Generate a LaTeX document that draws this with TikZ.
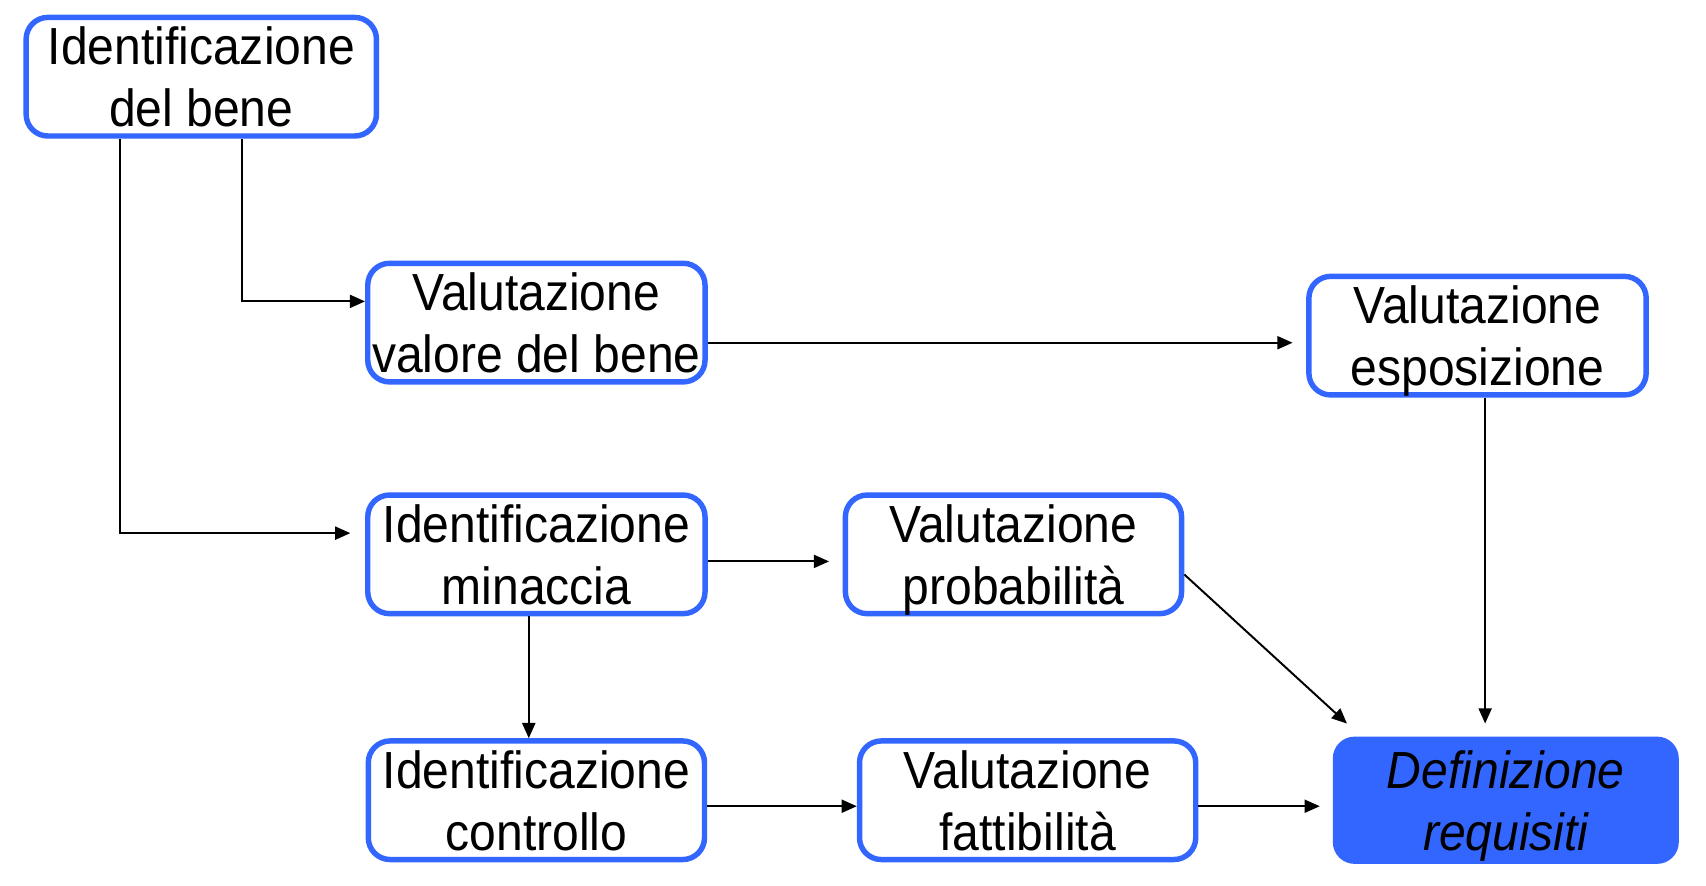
\documentclass[tikz,border=0pt]{standalone}
\usepackage{fontspec}
\setmainfont{Liberation Sans}[FakeStretch=0.92]
\usetikzlibrary{arrows.meta,calc}
\definecolor{boxblue}{HTML}{3366FF}
\begin{document}
\begin{tikzpicture}[x=1pt,y=1pt,
  box/.style={draw=boxblue,line width=5pt,rounded corners=20pt,fill=white,
    minimum width=310pt,minimum height=109pt,inner sep=0pt,align=center,
    font=\fontsize{48}{57}\selectfont,text depth=0pt},
  goal/.style={box,fill=boxblue,font=\fontsize{48}{57}\selectfont\itshape},
  arr/.style={line width=1.8pt,-{Triangle[length=14pt,width=12pt]}}]
\useasboundingbox (0,0) rectangle (1568,-814);
\node[box,minimum width=322pt] (b1) at (185,-70.5) {Identificazione\\del bene};
\node[box] (b2) at (493,-296.5) {Valutazione\\valore del bene};
\node[box] (b3) at (1358,-308.5) {Valutazione\\esposizione};
\node[box] (b4) at (493,-509.5) {Identificazione\\minaccia};
\node[box,minimum width=309pt] (b5) at (931.5,-509.5) {Valutazione\\probabilità};
\node[box,minimum width=309pt] (b6) at (493,-735.5) {Identificazione\\controllo};
\node[box,minimum width=309pt] (b7) at (944.5,-735.5) {Valutazione\\fattibilità};
\node[goal,draw=none,minimum width=318pt,minimum height=117pt] (b8) at (1384,-735.5) {Definizione\\requisiti};
% connectors
\coordinate (t4) at (322,-490);
\coordinate (t3) at (1188,-315);
\coordinate (t8a) at (1365,-665);
\coordinate (t5) at (762,-516);
\coordinate (t8b) at (1238,-665);
\coordinate (t8c) at (1213,-741);
\draw[arr] (b1.south -| 110,0) |- (t4);
\draw[arr] (b1.south -| 222,0) |- (b2.west |- 0,-277);
\draw[arr] (b2.east |- 0,-315) -- (t3);
\draw[arr] (b3.south -| t8a) -- (t8a);
\draw[arr] (b4.east |- t5) -- (t5);
\draw[arr] (b4.south -| 486,0) -- (b6.north -| 486,0);
\draw[arr] ($(b5.east)+(0,-18.5)$) -- (t8b);
\draw[arr] (b6.east |- 0,-741) -- (b7.west |- 0,-741);
\draw[arr] (b7.east |- t8c) -- (t8c);
\end{tikzpicture}
\end{document}
